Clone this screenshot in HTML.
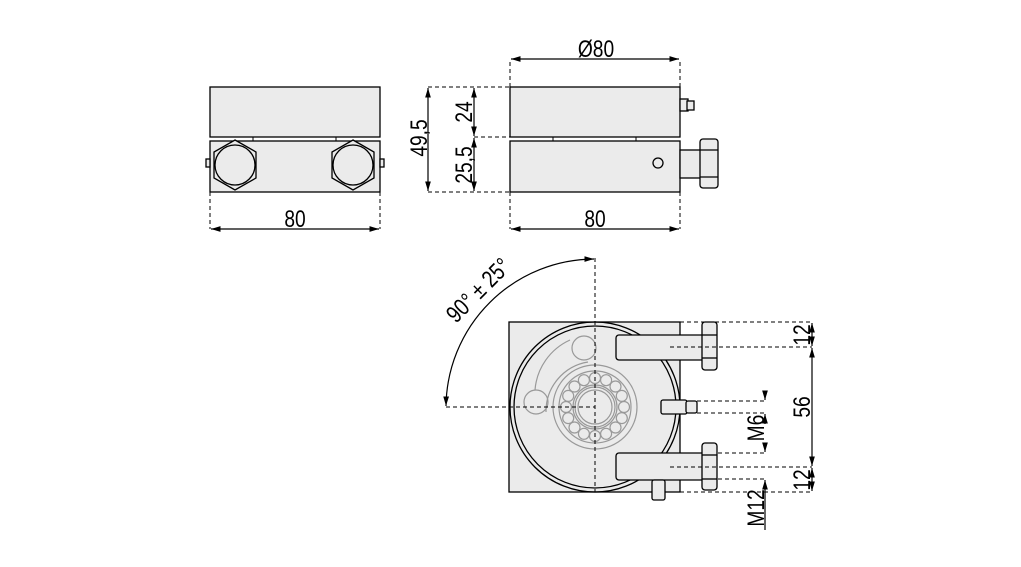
<!DOCTYPE html>
<html><head><meta charset="utf-8"><style>body{margin:0;background:#fff}svg{display:block}</style></head>
<body>
<svg width="1021" height="567" viewBox="0 0 1021 567" xmlns="http://www.w3.org/2000/svg" font-family="Liberation Sans, sans-serif">
<defs>
<marker id="a" viewBox="0 0 10 10" refX="10" refY="5" markerWidth="8" markerHeight="8" orient="auto-start-reverse"><path d="M0,2 L10,5 L0,8 z" fill="#000"/></marker>
</defs>
<g stroke="#000" stroke-width="1.3" fill="#ebebeb">
<rect x="210" y="87" width="170" height="50"/>
<rect x="210" y="141" width="170" height="51"/>
<rect x="206" y="159" width="4" height="8"/>
<rect x="380" y="159" width="4" height="8"/>
<polygon points="235,140 256,152 256,178 235,190 214,178 214,152"/>
<circle cx="235" cy="165" r="20"/>
<polygon points="353,140 374,152 374,178 353,190 332,178 332,152"/>
<circle cx="353" cy="165" r="20"/>
<rect x="510" y="87" width="170" height="50"/>
<rect x="510" y="141" width="170" height="51"/>
<rect x="680" y="99" width="8" height="12"/><rect x="687" y="101" width="7" height="9"/>
<rect x="680" y="150" width="22" height="28"/>
<rect x="700" y="139" width="18" height="49" rx="3"/>
<line x1="700" y1="150" x2="718" y2="150"/><line x1="700" y1="177" x2="718" y2="177"/>
<circle cx="658" cy="163" r="5" fill="none"/>
<rect x="509" y="322" width="171" height="170"/>
<circle cx="595" cy="407" r="85" fill="none"/>
<circle cx="595" cy="407" r="81" fill="none"/>
<rect x="616" y="335" width="90" height="25" rx="3"/>
<rect x="702" y="322" width="15" height="48" rx="3"/>
<line x1="702" y1="335" x2="717" y2="335"/><line x1="702" y1="358" x2="717" y2="358"/>
<rect x="616" y="453" width="90" height="27" rx="3"/>
<rect x="702" y="443" width="15" height="47" rx="3"/>
<line x1="702" y1="455" x2="717" y2="455"/><line x1="702" y1="479" x2="717" y2="479"/>
<rect x="661" y="400" width="26" height="14" rx="2"/>
<rect x="686" y="401" width="11" height="12" rx="2"/>
<rect x="652" y="480" width="13" height="20" rx="2"/>
</g>
<g stroke="#000" stroke-width="1">
<path d="M253,137V141M336,137V141M553,137V141M636,137V141"/>
</g>
<g stroke="#999" stroke-width="1.2" fill="none">
<circle cx="595" cy="407" r="42"/>
<circle cx="595" cy="407" r="36"/>
<circle cx="595" cy="407" r="22"/>
<circle cx="595" cy="407" r="20"/>
<circle cx="595" cy="407" r="17"/>
<circle cx="584" cy="348" r="12"/>
<circle cx="536" cy="402" r="12"/>
<path d="M535,390 A60,60 0 0 1 570,340"/>
<path d="M546,412 A50,50 0 0 1 588,362"/>
<circle cx="595" cy="378" r="5.5"/><circle cx="606.1" cy="380.2" r="5.5"/><circle cx="615.5" cy="386.5" r="5.5"/><circle cx="621.8" cy="395.9" r="5.5"/><circle cx="624" cy="407" r="5.5"/><circle cx="621.8" cy="418.1" r="5.5"/><circle cx="615.5" cy="427.5" r="5.5"/><circle cx="606.1" cy="433.8" r="5.5"/><circle cx="595" cy="436" r="5.5"/><circle cx="583.9" cy="433.8" r="5.5"/><circle cx="574.5" cy="427.5" r="5.5"/><circle cx="568.2" cy="418.1" r="5.5"/><circle cx="566" cy="407" r="5.5"/><circle cx="568.2" cy="395.9" r="5.5"/><circle cx="574.5" cy="386.5" r="5.5"/><circle cx="583.9" cy="380.2" r="5.5"/>
</g>
<g stroke="#000" stroke-width="1" stroke-dasharray="4,3" fill="none">
<path d="M210,192V229M380,192V229M510,192V229M680,192V229M510,87V59M680,87V59"/>
<path d="M428,87H510M474,137H510M428,192H510"/>
<path d="M595,258V492M446,407H595"/>
<path d="M680,322H812M670,347H812M690,401H765M690,413H765M718,453H765M670,467H812M718,479H765M680,492H812"/>
</g>
<g stroke="#000" stroke-width="1.2" fill="none">
<line x1="211" y1="229" x2="379" y2="229" marker-start="url(#a)" marker-end="url(#a)"/>
<line x1="511" y1="229" x2="679" y2="229" marker-start="url(#a)" marker-end="url(#a)"/>
<line x1="511" y1="59" x2="679" y2="59" marker-start="url(#a)" marker-end="url(#a)"/>
<line x1="428" y1="88" x2="428" y2="191" marker-start="url(#a)" marker-end="url(#a)"/>
<line x1="474" y1="88" x2="474" y2="136" marker-start="url(#a)" marker-end="url(#a)"/>
<line x1="474" y1="138" x2="474" y2="191" marker-start="url(#a)" marker-end="url(#a)"/>
<path d="M446,406 A149,149 0 0 1 594,259" marker-start="url(#a)" marker-end="url(#a)"/>
<line x1="812" y1="323" x2="812" y2="346" marker-start="url(#a)" marker-end="url(#a)"/>
<line x1="812" y1="348" x2="812" y2="466" marker-start="url(#a)" marker-end="url(#a)"/>
<line x1="812" y1="468" x2="812" y2="491" marker-start="url(#a)" marker-end="url(#a)"/>
<line x1="765" y1="391" x2="765" y2="400" marker-end="url(#a)"/>
<line x1="765" y1="424" x2="765" y2="414" marker-end="url(#a)"/>
<line x1="765" y1="443" x2="765" y2="452" marker-end="url(#a)"/>
<line x1="765" y1="530" x2="765" y2="480" marker-end="url(#a)"/>
</g>
<g font-size="24" fill="#000" text-anchor="middle">
<text transform="translate(295,227) scale(0.8,1)">80</text>
<text transform="translate(595,227) scale(0.8,1)">80</text>
<text transform="translate(596,57) scale(0.8,1)">Ø80</text>
<text transform="translate(427,138) rotate(-90) scale(0.8,1)">49,5</text>
<text transform="translate(472,112) rotate(-90) scale(0.8,1)">24</text>
<text transform="translate(472,165) rotate(-90) scale(0.8,1)">25,5</text>
<text transform="translate(484,296) rotate(-45) scale(0.8,1)">90° ± 25°</text>
<text transform="translate(810,335) rotate(-90) scale(0.8,1)">12</text>
<text transform="translate(810,407) rotate(-90) scale(0.8,1)">56</text>
<text transform="translate(810,480) rotate(-90) scale(0.8,1)">12</text>
<text transform="translate(764,428) rotate(-90) scale(0.8,1)">M6</text>
<text transform="translate(764,508) rotate(-90) scale(0.8,1)">M12</text>
</g>
</svg>
</body></html>
